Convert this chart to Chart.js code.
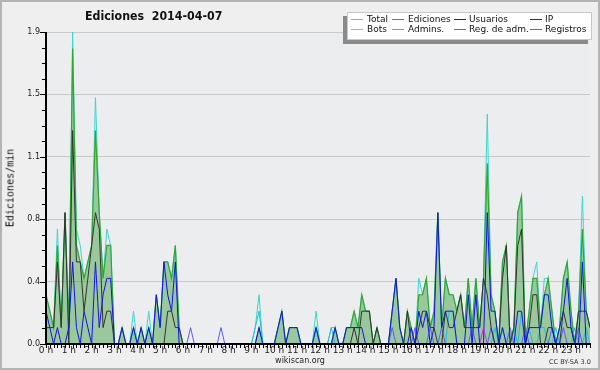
<!DOCTYPE html>
<html>
<head>
<meta charset="utf-8">
<script src="https://cdn.jsdelivr.net/npm/chart.js@4.4.0/dist/chart.umd.min.js"></script>
<style>
  body { margin: 0; background: #efefef; }
  #frame { position: relative; width: 600px; height: 370px; overflow: hidden; font-family: "DejaVu Sans", sans-serif; color: #111; }
  #frame canvas { position: absolute; left: 0; top: 0; }
  .title { position: absolute; left: 85px; top: 9px; font-weight: bold; font-size: 12px; white-space: pre;
           transform: scaleX(0.92); transform-origin: left top; }
  .ytitle { position: absolute; left: 10px; top: 188px; font-family: "DejaVu Sans Mono", monospace; font-size: 10px;
            transform: translate(-50%, -50%) rotate(-90deg); white-space: nowrap; }
  .site { position: absolute; left: 300px; top: 356px; transform: translateX(-50%); font-size: 8px; color: #222; }
  .lic { position: absolute; left: 549px; top: 358px; font-size: 6.5px; color: #333; white-space: nowrap; }
  #legend { position: absolute; left: 347px; top: 12px; width: 245px; height: 28px; background: #fff;
            border: 1px solid #c8c8c8; box-sizing: border-box; box-shadow: -4px 4px 0 #8a8a8a; }
  #legend .sw { position: absolute; height: 1px; width: 12px; }
  #legend .tx { position: absolute; font-size: 9px; line-height: 10px; white-space: nowrap; color: #111; }
  .border { position: absolute; left: 0; top: 0; width: 600px; height: 370px; box-sizing: border-box;
            border: 2px solid #b4b4b4; pointer-events: none; }
</style>
</head>
<body>
<div id="frame">
  <canvas id="chart" width="600" height="370"></canvas>
  <div class="title">Ediciones  2014-04-07</div>
  <div class="ytitle">Ediciones/min</div>
  <div id="legend"></div>
  <div class="site">wikiscan.org</div>
  <div class="lic">CC BY-SA 3.0</div>
  <div class="border"></div>
</div>
<script>
// actions counted per 10 minute slot, 144 slots for the day
const SLOT_MIN = 10;

const hourLabels = ['0 h','1 h','2 h','3 h','4 h','5 h','6 h','7 h','8 h','9 h','10 h','11 h',
  '12 h','13 h','14 h','15 h','16 h','17 h','18 h','19 h','20 h','21 h','22 h','23 h'];
const yTicks = [0, 0.38, 0.76, 1.14, 1.52, 1.9];

const total = [
  3,2,1,7,1,8,1,19,7,6,4,5,
  6,15,8,4,7,6,0,0,1,0,0,2,
  0,1,0,2,0,3,1,5,5,4,6,1,
  0,0,0,0,0,0,0,0,0,0,0,0,
  0,0,0,0,0,0,0,1,3,0,0,0,
  0,1,2,0,1,1,1,0,0,0,0,2,
  0,0,0,1,1,0,0,1,1,2,1,3,
  2,2,0,1,0,0,0,2,4,1,0,2,
  1,0,4,3,4,1,2,8,1,4,3,3,
  2,3,1,4,1,4,1,4,14,3,2,0,
  5,6,0,1,8,9,0,2,4,5,1,4,
  4,2,0,1,4,5,2,0,2,9,2,1
];
const editions = [
  3,2,1,6,1,8,1,18,6,5,4,5,
  6,13,8,4,6,6,0,0,1,0,0,1,
  0,1,0,1,0,3,1,5,5,4,6,1,
  0,0,0,0,0,0,0,0,0,0,0,0,
  0,0,0,0,0,0,0,0,1,0,0,0,
  0,1,2,0,1,1,1,0,0,0,0,1,
  0,0,0,0,1,0,0,1,1,2,1,3,
  2,2,0,1,0,0,0,2,4,1,0,2,
  1,0,3,3,4,1,2,8,1,4,3,3,
  2,3,1,4,1,4,1,4,11,3,2,0,
  5,6,0,1,8,9,0,2,4,4,1,3,
  4,2,0,1,4,5,2,0,2,7,2,1
];
const users = [
  2,1,0,1,0,0,1,5,1,0,2,1,
  0,5,1,3,4,4,0,0,1,0,0,1,
  0,1,0,1,0,3,1,5,3,2,5,0,
  0,0,0,0,0,0,0,0,0,0,0,0,
  0,0,0,0,0,0,0,0,1,0,0,0,
  0,1,2,0,1,1,1,0,0,0,0,1,
  0,0,0,0,1,0,0,1,1,1,1,1,
  0,0,0,0,0,0,0,2,4,1,0,0,
  1,0,2,1,2,0,1,8,1,2,2,2,
  0,0,0,3,0,3,0,0,8,2,2,0,
  1,0,0,0,2,2,0,1,1,1,1,3,
  3,1,0,1,2,4,1,0,0,5,0,0
];
const ip = [
  1,1,1,5,1,8,0,13,5,5,2,4,
  6,8,7,1,2,2,0,0,0,0,0,0,
  0,0,0,0,0,0,0,0,2,2,1,1,
  0,0,0,0,0,0,0,0,0,0,0,0,
  0,0,0,0,0,0,0,0,0,0,0,0,
  0,0,0,0,0,0,0,0,0,0,0,0,
  0,0,0,0,0,0,0,0,0,1,0,2,
  2,2,0,1,0,0,0,0,0,0,0,2,
  0,0,1,2,2,1,1,0,0,2,1,1,
  2,3,1,1,1,1,1,4,3,1,0,0,
  4,6,0,1,6,7,0,1,3,3,0,0,
  1,1,0,0,2,1,1,0,2,2,2,1
];
const bots = [
  0,0,0,0,0,0,0,0,0,0,0,0, 0,0,0,0,0,0,0,0,0,0,0,0,
  0,0,0,0,0,0,0,0,0,0,0,0, 0,0,0,0,0,0,0,0,0,0,0,0,
  0,0,0,0,0,0,0,0,0,0,0,0, 0,0,0,0,0,0,0,0,0,0,0,0,
  0,0,0,0,0,0,0,0,0,0,0,0, 0,0,0,0,0,0,0,0,0,0,0,0,
  0,0,0,0,0,0,0,0,0,0,0,0, 0,0,0,0,0,0,0,0,0,0,0,0,
  0,0,0,0,0,0,0,0,0,0,0,0, 0,0,0,0,0,0,0,0,0,0,0,0
];
const admins = [
  0,0,0,0,0,0,0,0,0,0,0,0, 0,0,0,0,0,0,0,0,0,0,0,0,
  0,0,0,0,0,0,0,0,0,0,0,0, 0,0,0,0,0,0,0,0,0,0,0,0,
  0,0,0,0,0,0,0,1,2,0,0,0, 0,0,0,0,0,0,0,0,0,0,0,1,
  0,0,0,1,0,0,0,0,0,0,0,0, 0,0,0,0,0,0,0,0,0,0,0,0,
  0,0,0,0,0,0,0,0,0,0,2,2, 0,0,0,0,0,0,0,0,0,0,1,0,
  1,0,0,1,0,2,0,1,0,0,1,1, 0,0,1,0,0,0,0,1,0,0,1,0
];
const regAdmins = [
  0,0,0,0,0,0,0,0,0,0,0,0, 0,0,0,0,0,0,0,0,0,0,0,0,
  0,0,0,0,0,0,0,0,0,0,0,0, 0,0,0,0,0,0,0,0,0,0,0,0,
  0,0,0,0,0,0,0,0,0,0,0,0, 0,0,0,0,0,0,0,0,0,0,0,0,
  0,0,0,0,0,0,0,0,0,0,0,0, 0,0,0,0,0,0,0,0,0,0,0,0,
  0,0,0,0,0,0,0,0,0,0,0,0, 0,0,0,0,0,0,0,1,0,0,0,0,
  0,0,0,0,0,0,0,0,0,0,0,0, 0,0,0,0,0,0,0,0,0,0,0,0
];
const signups = [
  0,0,0,0,0,0,0,0,0,0,0,0, 0,0,0,0,0,0,0,0,0,0,0,0,
  0,0,0,0,0,0,0,0,0,0,0,0, 0,0,1,0,0,0,0,0,0,0,1,0,
  0,0,0,0,0,0,0,0,0,0,0,0, 0,0,0,0,0,0,0,0,0,0,0,0,
  0,0,0,0,0,0,0,0,0,0,0,0, 0,0,0,0,0,0,0,1,0,0,0,0,
  0,1,0,0,0,1,0,0,1,0,0,0, 0,0,0,0,1,0,0,0,0,1,0,0,
  0,0,1,0,0,0,1,0,0,0,0,0, 0,1,0,0,1,0,0,0,1,0,0,0
];

function toPoints(arr) {
  return arr.map((n, i) => ({ x: i, y: n / SLOT_MIN }));
}

// legend order as in the box (4 columns x 2 rows)
const series = [
  { label: 'Total',        data: total,     color: '#3ad8cc', order: 9 },
  { label: 'Ediciones',    data: editions,  color: '#2ea82e', order: 8 },
  { label: 'Usuarios',     data: users,     color: '#1212ee', order: 3 },
  { label: 'IP',           data: ip,        color: '#333333', order: 4 },
  { label: 'Bots',         data: bots,      color: '#ff9933', order: 6 },
  { label: 'Admins.',      data: admins,    color: '#22bde0', order: 7 },
  { label: 'Reg. de adm.', data: regAdmins, color: '#c030e0', order: 2 },
  { label: 'Registros',    data: signups,   color: '#5a5aff', order: 5 }
];

const datasets = series.map(s => {
  const ds = {
    label: s.label,
    data: toPoints(s.data),
    borderColor: s.color,
    borderWidth: 1,
    pointRadius: 0,
    tension: 0,
    fill: false,
    order: s.order
  };
  if (s.label === 'Ediciones') {
    ds.fill = 'origin';
    ds.backgroundColor = 'rgba(40,150,40,0.42)';
    ds.borderWidth = 1.2;
  }
  return ds;
});

// plot background + hand drawn axes (over the lines, like the original)
const axesPlugin = {
  id: 'axes',
  beforeDraw(chart) {
    const { ctx, chartArea: a } = chart;
    ctx.save();
    ctx.fillStyle = '#ecedef';
    ctx.fillRect(a.left, a.top, a.right - a.left, a.bottom - a.top);
    ctx.restore();
  },
  afterDatasetsDraw(chart) {
    const { ctx, chartArea: a, scales } = chart;
    const x = scales.x, y = scales.y;
    ctx.save();
    ctx.strokeStyle = '#000';
    ctx.lineWidth = 2;
    ctx.beginPath();
    ctx.moveTo(a.left, a.top);
    ctx.lineTo(a.left, a.bottom + 1);
    ctx.moveTo(a.left - 1, a.bottom);
    ctx.lineTo(a.right + 1, a.bottom);
    ctx.stroke();
    ctx.lineWidth = 1;
    ctx.beginPath();
    for (let k = 0; k <= 20; k++) {
      const py = Math.round(y.getPixelForValue(k * 1.9 / 20)) + 0.5;
      const len = k % 4 === 0 ? 6 : 4;
      ctx.moveTo(a.left - len, py);
      ctx.lineTo(a.left, py);
    }
    for (let s = 0; s < total.length; s++) {
      const px = Math.round(x.getPixelForValue(s)) + 0.5;
      ctx.moveTo(px, a.bottom);
      ctx.lineTo(px, a.bottom + 4);
    }
    ctx.stroke();
    ctx.restore();
  }
};

Chart.defaults.font.family = '"DejaVu Sans", sans-serif';
Chart.defaults.color = '#222';

new Chart(document.getElementById('chart'), {
  type: 'line',
  data: { datasets },
  options: {
    responsive: false,
    animation: false,
    events: [],
    layout: { padding: { top: 32, right: 10, left: 0, bottom: 0 } },
    plugins: {
      legend: { display: false },
      tooltip: { enabled: false },
      filler: { drawTime: 'beforeDatasetsDraw' }
    },
    scales: {
      x: {
        type: 'linear',
        min: 0,
        max: total.length - 1,
        afterFit(scale) { scale.height = 26; },
        afterBuildTicks(scale) {
          scale.ticks = hourLabels.map((_, h) => ({ value: h * 6 }));
        },
        ticks: {
          autoSkip: false,
          maxRotation: 0,
          padding: 1,
          font: { size: 9 },
          callback: v => hourLabels[v / 6]
        },
        grid: { display: false, drawTicks: false },
        border: { display: false }
      },
      y: {
        min: 0,
        max: 1.9,
        afterFit(scale) { scale.width = 46; },
        afterBuildTicks(scale) {
          scale.ticks = yTicks.map(v => ({ value: v }));
        },
        ticks: {
          padding: 6,
          font: { size: 8 },
          callback: v => v.toFixed(1)
        },
        grid: { color: '#c9c9c9', drawTicks: false },
        border: { display: false }
      }
    }
  },
  plugins: [axesPlugin]
});

// legend box
const legend = document.getElementById('legend');
const swX = [3, 44, 106, 182];
const txX = [19, 60, 121, 197];
series.forEach((s, k) => {
  const col = k % 4, row = Math.floor(k / 4);
  const sw = document.createElement('div');
  sw.className = 'sw';
  sw.style.left = swX[col] + 'px';
  sw.style.top = (6 + row * 10) + 'px';
  sw.style.background = s.color;
  legend.appendChild(sw);
  const tx = document.createElement('div');
  tx.className = 'tx';
  tx.style.left = txX[col] + 'px';
  tx.style.top = (1 + row * 10) + 'px';
  tx.textContent = s.label;
  legend.appendChild(tx);
});
</script>
</body>
</html>
